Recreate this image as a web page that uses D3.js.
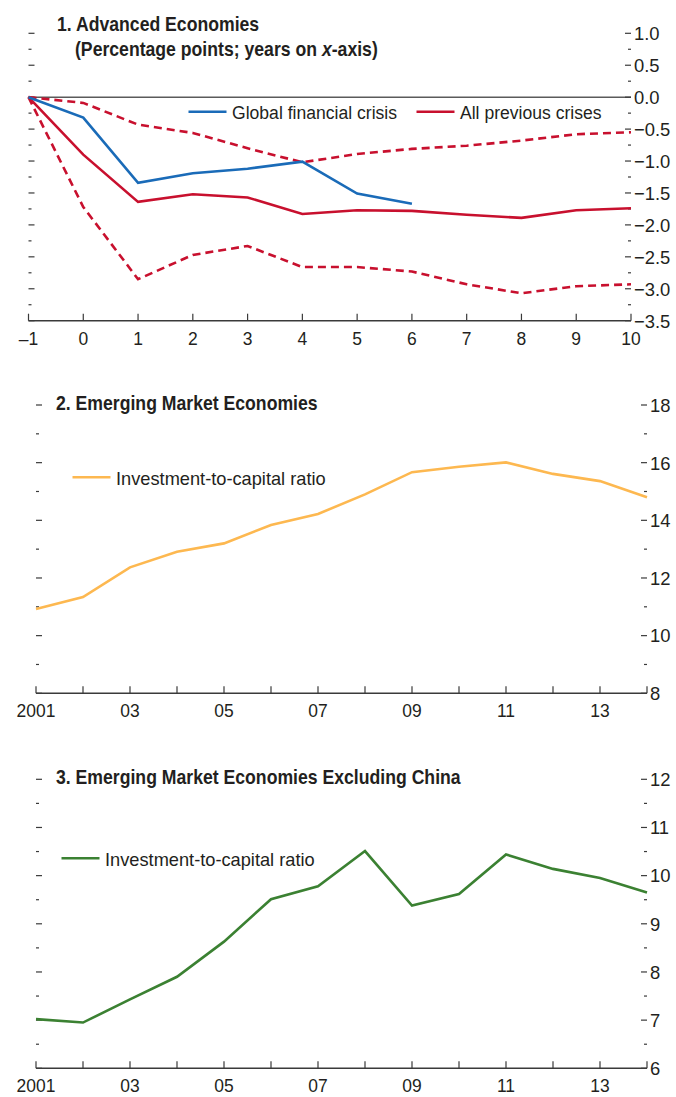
<!DOCTYPE html>
<html>
<head>
<meta charset="utf-8">
<script src="https://cdn.jsdelivr.net/npm/d3@7"></script>
<style>
  html, body { margin: 0; padding: 0; background: #fff; }
  svg { display: block; }
  text { font-family: "Liberation Sans", Arial, sans-serif; fill: #231f20; }
</style>
</head>
<body>
<svg id="chart" width="676" height="1097"></svg>
<script>
// ---------- Data ----------
// Panel 1: Advanced Economies (years relative to crisis)
const p1Years = [-1, 0, 1, 2, 3, 4, 5, 6, 7, 8, 9, 10];
const gfcValues = [0, -0.32, -1.34, -1.19, -1.12, -1.01, -1.51, -1.67];
const prevMedian = [0, -0.90, -1.64, -1.52, -1.57, -1.83, -1.77, -1.78, -1.84, -1.89, -1.77, -1.74];
const prevUpper = [0, -0.09, -0.43, -0.56, -0.80, -1.02, -0.89, -0.81, -0.76, -0.68, -0.58, -0.55];
const prevLower = [0, -1.72, -2.85, -2.47, -2.33, -2.66, -2.66, -2.73, -2.93, -3.07, -2.96, -2.93];
const p1YTicks = [1.0, 0.5, 0.0, -0.5, -1.0, -1.5, -2.0, -2.5, -3.0, -3.5];
const p1XTicks = [-1, 0, 1, 2, 3, 4, 5, 6, 7, 8, 9, 10];

// Panel 2 & 3: calendar years
const years = [2001, 2002, 2003, 2004, 2005, 2006, 2007, 2008, 2009, 2010, 2011, 2012, 2013, 2014];
const emValues = [10.92, 11.34, 12.37, 12.91, 13.20, 13.84, 14.22, 14.90, 15.67, 15.86, 16.01, 15.61, 15.36, 14.80];
const emExChinaValues = [7.02, 6.95, 7.43, 7.90, 8.63, 9.51, 9.78, 10.51, 9.38, 9.62, 10.44, 10.14, 9.95, 9.65];
const yearTickLabels = ["2001", "03", "05", "07", "09", "11", "13"];
const p2YTicks = [18, 16, 14, 12, 10, 8];
const p3YTicks = [12, 11, 10, 9, 8, 7, 6];

// ---------- Drawing ----------
const svg = d3.select("#chart");
const axisColor = "#3a3a3a";
const fmtMinus = s => s.replace("-", "\u2013");
// condensed look: horizontal squeeze of the installed sans font
const SX_TICK_X = 0.92, SX_TICK_Y = 0.97, SX_TITLE = 0.905;

function placeText(sel, x, y, sx) {
  return sel.attr("transform", (d, i) => {
    const xx = typeof x === "function" ? x(d, i) : x;
    const yy = typeof y === "function" ? y(d, i) : y;
    return `translate(${xx},${yy}) scale(${sx},1)`;
  });
}

function drawFrame(g, x, y, cfg) {
  const [x0, x1] = x.range();
  const [yb, yt] = y.range();
  g.append("line").attr("x1", x0).attr("x2", x1).attr("y1", yb).attr("y2", yb)
    .attr("stroke", axisColor).attr("stroke-width", 1.5);
  g.selectAll(".xt").data(cfg.xTicks).join("line")
    .attr("x1", d => x(d)).attr("x2", d => x(d))
    .attr("y1", yb).attr("y2", yb - 7)
    .attr("stroke", axisColor).attr("stroke-width", 1.2);
  placeText(g.selectAll(".xl").data(cfg.xLabelVals).join("text")
    .attr("text-anchor", "middle").attr("font-size", 19)
    .text((d, i) => cfg.xLabelText(d, i)), d => x(d), yb + 24, SX_TICK_X);
  const majors = cfg.yTicks, minors = cfg.yMinor;
  g.selectAll(".rmaj").data(majors).join("line")
    .attr("x1", x1 - 6).attr("x2", x1).attr("y1", d => y(d)).attr("y2", d => y(d))
    .attr("stroke", axisColor).attr("stroke-width", 1.2);
  g.selectAll(".rmin").data(minors).join("line")
    .attr("x1", x1 - 3).attr("x2", x1).attr("y1", d => y(d)).attr("y2", d => y(d))
    .attr("stroke", axisColor).attr("stroke-width", 1.2);
  placeText(g.selectAll(".rl").data(majors).join("text")
    .attr("dy", "0.36em").attr("font-size", 19)
    .text(d => cfg.yFormat(d)), x1 + 3, d => y(d), SX_TICK_Y);
  g.selectAll(".lmaj").data(majors).join("line")
    .attr("x1", x0).attr("x2", x0 + 6).attr("y1", d => y(d)).attr("y2", d => y(d))
    .attr("stroke", axisColor).attr("stroke-width", 1.2);
  g.selectAll(".lmin").data(minors).join("line")
    .attr("x1", x0).attr("x2", x0 + 3).attr("y1", d => y(d)).attr("y2", d => y(d))
    .attr("stroke", axisColor).attr("stroke-width", 1.2);
}

function drawLine(g, x, y, xs, vals, color, dash) {
  const line = d3.line().x((d, i) => x(xs[i])).y(d => y(d));
  g.append("path").datum(vals)
    .attr("d", line).attr("fill", "none")
    .attr("stroke", color).attr("stroke-width", 2.6)
    .attr("stroke-linejoin", "miter")
    .attr("stroke-dasharray", dash || null);
}

function legendItem(g, x0, y0, color, label, sx) {
  g.append("line").attr("x1", x0).attr("x2", x0 + 38).attr("y1", y0).attr("y2", y0)
    .attr("stroke", color).attr("stroke-width", 2.6);
  placeText(g.append("text").attr("font-size", 19).text(label), x0 + 43.5, y0 + 7.5, sx);
}

function title(g, x, y, sx) {
  return placeText(g.append("text").attr("font-size", 19.5).attr("font-weight", "bold"), x, y, sx);
}

// ---- Panel 1 ----
{
  const g = svg.append("g");
  const x = d3.scaleLinear().domain([-1, 10]).range([28.5, 631]);
  const y = d3.scaleLinear().domain([-3.5, 1.0]).range([320.7, 33.3]);
  const blue = "#1a6bb8", red = "#c8102e";
  g.append("line").attr("x1", x(-1)).attr("x2", x(10)).attr("y1", y(0)).attr("y2", y(0))
    .attr("stroke", "#5a5a5a").attr("stroke-width", 1.5);
  drawFrame(g, x, y, {
    xTicks: p1XTicks,
    xLabelVals: p1XTicks,
    xLabelText: d => fmtMinus(String(d)),
    yTicks: p1YTicks,
    yMinor: d3.range(-3.25, 1.0, 0.5),
    yFormat: d => fmtMinus(d3.format(".1f")(d))
  });
  drawLine(g, x, y, p1Years, prevUpper, red, "8,5");
  drawLine(g, x, y, p1Years, prevLower, red, "8,5");
  drawLine(g, x, y, p1Years, prevMedian, red);
  drawLine(g, x, y, p1Years, gfcValues, blue);
  legendItem(g, 188.5, 111.7, blue, "Global financial crisis", 0.925);
  legendItem(g, 416.5, 111.7, red, "All previous crises", 0.925);
  title(g, 57, 30.5, SX_TITLE).text("1. Advanced Economies");
  const t2 = title(g, 75, 56, SX_TITLE);
  t2.append("tspan").text("(Percentage points; years on ");
  t2.append("tspan").attr("font-style", "italic").text("x");
  t2.append("tspan").text("-axis)");
}

// ---- Panel 2 ----
{
  const g = svg.append("g");
  const x = d3.scaleLinear().domain([2001, 2014]).range([36, 647]);
  const y = d3.scaleLinear().domain([8, 18]).range([693.3, 405]);
  drawFrame(g, x, y, {
    xTicks: years,
    xLabelVals: years.filter((d, i) => i % 2 === 0),
    xLabelText: (d, i) => yearTickLabels[i],
    yTicks: p2YTicks,
    yMinor: d3.range(9, 18, 2),
    yFormat: d => String(d)
  });
  drawLine(g, x, y, years, emValues, "#fdb850");
  legendItem(g, 72.5, 477.3, "#fdb850", "Investment-to-capital ratio", 0.96);
  title(g, 56, 410, SX_TITLE).text("2. Emerging Market Economies");
}

// ---- Panel 3 ----
{
  const g = svg.append("g");
  const x = d3.scaleLinear().domain([2001, 2014]).range([36, 647]);
  const y = d3.scaleLinear().domain([6, 12]).range([1068.3, 779.3]);
  drawFrame(g, x, y, {
    xTicks: years,
    xLabelVals: years.filter((d, i) => i % 2 === 0),
    xLabelText: (d, i) => yearTickLabels[i],
    yTicks: p3YTicks,
    yMinor: d3.range(6.5, 12, 1),
    yFormat: d => String(d)
  });
  drawLine(g, x, y, years, emExChinaValues, "#3b8132");
  legendItem(g, 61.5, 858.3, "#3b8132", "Investment-to-capital ratio", 0.96);
  title(g, 56, 783.5, SX_TITLE).text("3. Emerging Market Economies Excluding China");
}
</script>
</body>
</html>
